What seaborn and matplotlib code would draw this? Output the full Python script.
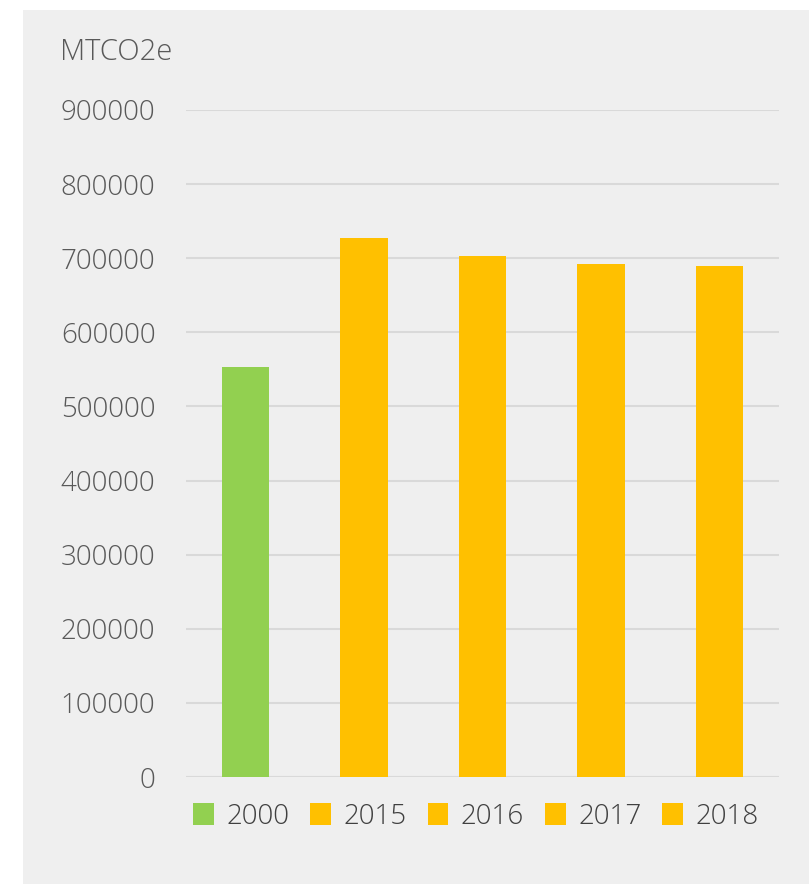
import matplotlib.pyplot as plt
import matplotlib.patches as mpatches
import seaborn as sns
import pandas as pd

# Chart data
years = ['2000', '2015', '2016', '2017', '2018']
emissions = [553000, 727000, 703000, 692000, 690000]
colors = ['#92d050', '#ffc000', '#ffc000', '#ffc000', '#ffc000']

df = pd.DataFrame({'year': years, 'emissions': emissions})

sns.set_style('white')
plt.rcParams['font.family'] = ['Open Sans', 'DejaVu Sans']

fig = plt.figure(figsize=(8.09, 8.84), dpi=100)
fig.patch.set_facecolor('white')

# Gray panel behind the chart
fig.patches.append(mpatches.Rectangle((23 / 809, 0), 1 - 23 / 809, 1 - 10 / 884,
                                      transform=fig.transFigure, facecolor='#efefef',
                                      edgecolor='none', zorder=-10))

ax = fig.add_axes([186 / 809, 1 - 777 / 884, (779 - 186) / 809, (777 - 110) / 884])
ax.set_facecolor('none')

sns.barplot(data=df, x='year', y='emissions', hue='year', palette=colors,
            width=0.4, dodge=False, legend=False, ax=ax, saturation=1,
            edgecolor='none', linewidth=0)

ax.set_ylim(0, 900000)
ax.set_yticks(range(0, 900001, 100000))
ax.yaxis.grid(True, color='#d9d9d9', linewidth=1.5)
ax.set_axisbelow(True)
for s in ax.spines.values():
    s.set_visible(False)
ax.axhline(0, color='#d9d9d9', linewidth=1.5, zorder=0)
ax.tick_params(axis='y', length=0, pad=22, labelsize=20, labelcolor='#595959')
ax.tick_params(axis='x', length=0, labelbottom=False)
for lbl in ax.get_yticklabels():
    lbl.set_fontweight('light')
ax.set_xlabel('')
ax.set_ylabel('')

fig.text(60 / 809, 1 - 52 / 884, 'MTCO2e', fontsize=21, color='#595959',
         fontweight='light', va='center', ha='left')

handles = [mpatches.Patch(facecolor=c, edgecolor='none') for c in colors]
leg = fig.legend(handles, years, loc='center', bbox_to_anchor=(476 / 809, 1 - 817 / 884),
                 ncol=5, frameon=False, handlelength=0.75, handleheight=0.85,
                 handletextpad=0.45, columnspacing=0.75,
                 prop={'size': 20, 'weight': 'light'})
for t in leg.get_texts():
    t.set_color('#404040')

fig.savefig('out.png', dpi=100)
